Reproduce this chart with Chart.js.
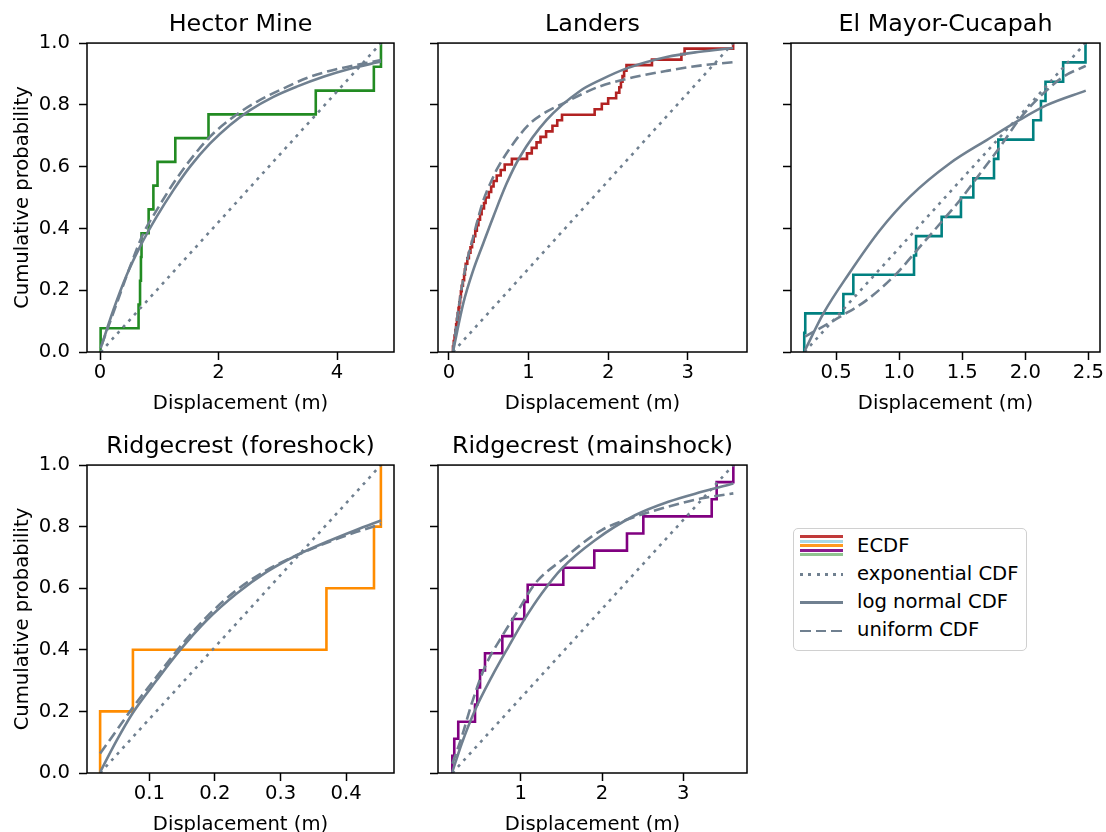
<!DOCTYPE html>
<html>
<head>
<meta charset="utf-8">
<title>Displacement CDFs</title>
<script src="https://cdn.jsdelivr.net/npm/chart.js@4.4.0/dist/chart.umd.min.js"></script>
<style>
  html, body { margin: 0; padding: 0; background: #fff; overflow: hidden; }
  body { width: 1106px; height: 832px; position: relative; font-family: "DejaVu Sans", sans-serif; }
  canvas { position: absolute; }
  #legend { position: absolute; left: 793px; top: 528px; width: 234px; height: 123px; box-sizing: border-box;
            border: 1.3px solid #d0d0d0; border-radius: 5px; background: #fff; }
  #legend .ln { position: absolute; left: 6px; width: 43px; height: 3px; }
  #legend .lbl { position: absolute; left: 63px; font-size: 19.6px; line-height: 22px; color: #000; white-space: nowrap; }
</style>
</head>
<body>
<canvas id="hector"></canvas>
<canvas id="landers"></canvas>
<canvas id="elmayor"></canvas>
<canvas id="fore"></canvas>
<canvas id="main"></canvas>

<div id="legend">
  <div class="ln" style="top:6px;background:#c13a3a"></div>
  <div class="ln" style="top:10.5px;background:#a9d9e6"></div>
  <div class="ln" style="top:15px;background:#ff9a1f"></div>
  <div class="ln" style="top:19.5px;background:#8b1a8b"></div>
  <div class="ln" style="top:24px;background:#8fc48f"></div>
  <div class="lbl" style="top:6px">ECDF</div>

  <div class="ln" style="top:44px;height:2.6px;background:repeating-linear-gradient(90deg,#708090 0 3px,transparent 3px 8.3px)"></div>
  <div class="lbl" style="top:34px">exponential CDF</div>

  <div class="ln" style="top:72px;height:2.6px;background:#708090"></div>
  <div class="lbl" style="top:62px">log normal CDF</div>

  <div class="ln" style="top:100.5px;height:2.6px;background:repeating-linear-gradient(90deg,#708090 0 10.5px,transparent 10.5px 15.5px)"></div>
  <div class="lbl" style="top:90px">uniform CDF</div>
</div>

<script>
// shared axis ticks
const probTicks = ['0.0', '0.2', '0.4', '0.6', '0.8', '1.0'];

// Hector Mine
const hectorTicks = ['0', '2', '4'];
const hectorSamples = [0.01, 0.65, 0.675, 0.69, 0.70, 0.82, 0.90, 0.97, 1.27, 1.83, 3.64, 4.62, 4.74];
const hectorExpo = [[0.01, 0], [4.74, 1]];
const hectorLognorm = [[0.01, 0.012], [0.225, 0.136], [0.45, 0.249], [0.675, 0.341], [0.956, 0.438], [1.238, 0.524],
  [1.519, 0.60], [1.857, 0.675], [2.194, 0.735], [2.532, 0.783], [2.925, 0.826], [3.319, 0.859], [3.769, 0.891],
  [4.219, 0.917], [4.74, 0.94]];
const hectorUniform = [[0.028, 0.023], [0.281, 0.157], [0.506, 0.276], [0.731, 0.384], [0.956, 0.459], [1.238, 0.546],
  [1.519, 0.621], [1.857, 0.697], [2.25, 0.761], [2.644, 0.81], [3.094, 0.853], [3.544, 0.891], [4.05, 0.918],
  [4.74, 0.945]];

// Landers
const landersTicks = ['0', '1', '2', '3'];
const landersSamples = [0.05, 0.06, 0.07, 0.08, 0.09, 0.10, 0.11, 0.12, 0.13, 0.14, 0.15, 0.16, 0.175, 0.19,
  0.20, 0.21, 0.23, 0.25, 0.27, 0.29, 0.31, 0.33, 0.35, 0.37, 0.39, 0.41, 0.44, 0.46, 0.50, 0.53, 0.56, 0.60,
  0.65, 0.70, 0.79, 0.98, 1.04, 1.10, 1.15, 1.22, 1.30, 1.36, 1.42, 1.83, 1.92, 2.0, 2.1, 2.14, 2.16, 2.18,
  2.20, 2.23, 2.55, 2.92, 2.96, 3.57];
const landersExpo = [[0.05, 0], [3.57, 1]];
const landersLognorm = [[0.054, 0.006], [0.18, 0.158], [0.305, 0.265], [0.431, 0.352], [0.557, 0.438], [0.725, 0.546],
  [0.892, 0.632], [1.227, 0.751], [1.646, 0.845], [1.897, 0.88], [2.232, 0.918], [2.735, 0.955], [3.153, 0.972],
  [3.57, 0.984]];
const landersUniform = [[0.05, 0.0], [0.117, 0.136], [0.201, 0.265], [0.305, 0.373], [0.431, 0.49], [0.557, 0.567],
  [0.599, 0.59], [0.808, 0.675], [1.018, 0.74], [1.227, 0.778], [1.436, 0.805], [1.73, 0.842], [1.897, 0.86],
  [2.315, 0.889], [2.735, 0.91], [3.153, 0.927], [3.57, 0.938]];

// El Mayor-Cucapah
const elmayorTicks = ['0.5', '1.0', '1.5', '2.0', '2.5'];
const elmayorSamples = [0.248, 0.256, 0.558, 0.637, 1.118, 1.134, 1.337, 1.49, 1.588, 1.752, 1.786, 2.063,
  2.124, 2.16, 2.30, 2.477];
const elmayorExpo = [[0.25, 0], [2.477, 1]];
const elmayorLognorm = [[0.254, 0.006], [0.4, 0.125], [0.598, 0.251], [0.849, 0.395], [1.086, 0.503], [1.403, 0.611],
  [1.694, 0.686], [1.958, 0.752], [2.17, 0.799], [2.479, 0.846]];
const elmayorUniform = [[0.254, 0.05], [0.558, 0.12], [0.743, 0.168], [0.968, 0.249], [1.166, 0.341], [1.325, 0.416],
  [1.483, 0.492], [1.642, 0.578], [1.8, 0.664], [1.958, 0.756], [2.143, 0.837], [2.301, 0.891], [2.479, 0.926]];

// Ridgecrest foreshock
const foreTicks = ['0.1', '0.2', '0.3', '0.4'];
const foreSamples = [0.025, 0.075, 0.370, 0.4425, 0.453];
const foreExpo = [[0.025, 0], [0.453, 1]];
const foreLognorm = [[0.025, 0.003], [0.0503, 0.106], [0.0757, 0.198], [0.1112, 0.301], [0.1468, 0.399],
  [0.1875, 0.496], [0.2332, 0.583], [0.279, 0.653], [0.3247, 0.707], [0.3755, 0.755], [0.4162, 0.79], [0.4533, 0.82]];
const foreUniform = [[0.025, 0.063], [0.0503, 0.139], [0.0757, 0.215], [0.1112, 0.313], [0.1468, 0.41],
  [0.1875, 0.507], [0.2332, 0.594], [0.279, 0.659], [0.3247, 0.707], [0.3755, 0.752], [0.4162, 0.783], [0.4533, 0.808]];

// Ridgecrest mainshock
const mainTicks = ['1', '2', '3'];
const mainSamples = [0.159, 0.183, 0.232, 0.438, 0.466, 0.50, 0.561, 0.774, 0.897, 1.044, 1.086, 1.524, 1.905,
  2.307, 2.508, 3.349, 3.41, 3.615];
const mainExpo = [[0.159, 0], [3.615, 1]];
const mainLognorm = [[0.159, 0.003], [0.274, 0.095], [0.438, 0.204], [0.643, 0.312], [0.848, 0.409], [1.053, 0.502],
  [1.258, 0.583], [1.504, 0.664], [1.914, 0.756], [2.406, 0.837], [2.816, 0.881], [3.226, 0.913], [3.615, 0.94]];
const mainUniform = [[0.159, 0.03], [0.274, 0.117], [0.397, 0.225], [0.561, 0.345], [0.766, 0.442], [0.971, 0.529],
  [1.176, 0.615], [1.504, 0.691], [1.996, 0.789], [2.406, 0.832], [2.816, 0.865], [3.226, 0.892], [3.615, 0.908]];

const GRAY = '#708090';
const FONT = 'DejaVu Sans';
const TITLE_H = 43, XAXIS_H = 70, PAD_R = 10;

// box around each plot area, drawn above the lines like matplotlib spines
const frame = {
  id: 'frame',
  afterDatasetsDraw(chart) {
    const { ctx, chartArea: a } = chart;
    ctx.save();
    ctx.strokeStyle = '#000';
    ctx.lineWidth = 1.5;
    ctx.strokeRect(a.left, a.top, a.right - a.left, a.bottom - a.top);
    ctx.restore();
  }
};

function ecdf(samples, color) {
  const n = samples.length;
  const pts = [{ x: samples[0], y: 0 }].concat(samples.map((v, i) => ({ x: v, y: (i + 1) / n })));
  return { data: pts, borderColor: color, borderWidth: 2.6, stepped: true, pointRadius: 0, order: 2 };
}

function curve(points, dash) {
  return {
    data: points.map(p => ({ x: p[0], y: p[1] })),
    borderColor: GRAY, borderWidth: 2.6, borderDash: dash, borderCapStyle: 'butt',
    cubicInterpolationMode: 'monotone', pointRadius: 0, order: 1
  };
}

function panel(id, p) {
  const el = document.getElementById(id);
  const w = p.yw + p.w + PAD_R, h = TITLE_H + p.h + XAXIS_H;
  el.width = w; el.height = h;
  el.style.left = (p.left - p.yw) + 'px';
  el.style.top = (p.top - TITLE_H) + 'px';
  el.style.width = w + 'px'; el.style.height = h + 'px';

  const labelFont = { family: FONT, size: 19.6, lineHeight: 1.2 };

  new Chart(el, {
    type: 'line',
    data: {
      datasets: [
        ecdf(p.samples, p.color),
        curve(p.expo, [3, 5.3]),
        curve(p.lognorm, []),
        curve(p.uniform, [10.5, 5])
      ]
    },
    options: {
      responsive: false,
      animation: false,
      events: [],
      layout: { padding: { top: 0, right: PAD_R, bottom: 0, left: 0 } },
      plugins: {
        legend: { display: false },
        tooltip: { enabled: false },
        title: {
          display: true, text: p.title, color: '#000', fullSize: false,
          font: { family: FONT, size: 23.8, weight: 'normal', lineHeight: 1.2 },
          padding: { top: 10.5, bottom: 4 }
        }
      },
      scales: {
        x: {
          type: 'linear', min: p.xmin, max: p.xmax,
          afterBuildTicks: s => { s.ticks = p.xTicks.map(t => ({ value: parseFloat(t) })); },
          afterFit: s => { s.height = XAXIS_H; },
          ticks: { callback: (v, i) => p.xTicks[i], color: '#000', font: labelFont, padding: 1.5, maxRotation: 0, autoSkip: false },
          grid: { drawOnChartArea: false, tickLength: 8, tickWidth: 1.5, color: '#000' },
          border: { display: false },
          title: { display: true, text: 'Displacement (m)', color: '#000', font: labelFont, padding: { top: 0, bottom: 6.6 } }
        },
        y: {
          type: 'linear', min: 0, max: 1,
          afterBuildTicks: s => { s.ticks = probTicks.map(t => ({ value: parseFloat(t) })); },
          afterFit: s => { s.width = p.yw; },
          ticks: { display: p.yLabels, callback: (v, i) => probTicks[i], color: '#000', font: labelFont, padding: 9, autoSkip: false },
          grid: { drawOnChartArea: false, tickLength: 8, tickWidth: 1.5, color: '#000' },
          border: { display: false },
          title: { display: p.yLabels, text: 'Cumulative probability', color: '#000', font: labelFont, padding: { top: 11.5, bottom: 0 } }
        }
      }
    },
    plugins: [frame]
  });
}

panel('hector', { title: 'Hector Mine', left: 87, top: 43, w: 307, h: 309, yw: 87, yLabels: true,
  xmin: -0.22, xmax: 4.96, xTicks: hectorTicks, color: '#228b22',
  samples: hectorSamples, expo: hectorExpo, lognorm: hectorLognorm, uniform: hectorUniform });

panel('landers', { title: 'Landers', left: 438, top: 43, w: 309, h: 309, yw: 12, yLabels: false,
  xmin: -0.138, xmax: 3.744, xTicks: landersTicks, color: '#b22222',
  samples: landersSamples, expo: landersExpo, lognorm: landersLognorm, uniform: landersUniform });

panel('elmayor', { title: 'El Mayor-Cucapah', left: 791, top: 43, w: 309, h: 309, yw: 12, yLabels: false,
  xmin: 0.143, xmax: 2.592, xTicks: elmayorTicks, color: '#008080',
  samples: elmayorSamples, expo: elmayorExpo, lognorm: elmayorLognorm, uniform: elmayorUniform });

panel('fore', { title: 'Ridgecrest (foreshock)', left: 87, top: 465, w: 307, h: 308, yw: 87, yLabels: true,
  xmin: 0.005, xmax: 0.473, xTicks: foreTicks, color: '#ff8c00',
  samples: foreSamples, expo: foreExpo, lognorm: foreLognorm, uniform: foreUniform });

panel('main', { title: 'Ridgecrest (mainshock)', left: 438, top: 465, w: 309, h: 308, yw: 12, yLabels: false,
  xmin: -0.017, xmax: 3.783, xTicks: mainTicks, color: '#800080',
  samples: mainSamples, expo: mainExpo, lognorm: mainLognorm, uniform: mainUniform });
</script>
</body>
</html>
